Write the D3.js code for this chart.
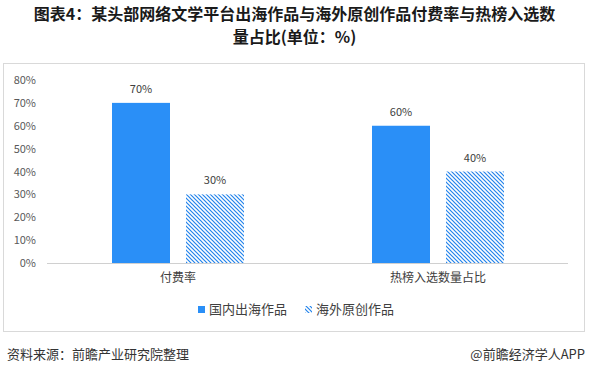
<!DOCTYPE html>
<html>
<head>
<meta charset="utf-8">
<script src="https://cdn.jsdelivr.net/npm/d3@7"></script>
<style>
  body { margin: 0; background: #fff; }
  svg { font-family: "Noto Sans CJK SC", "Noto Sans", sans-serif; }
</style>
</head>
<body>
<svg id="chart" width="589" height="376"></svg>
<script>
// data
const categories = ["付费率", "热榜入选数量占比"];
const seriesNames = ["国内出海作品", "海外原创作品"];
const domestic = [70, 60];
const overseas = [30, 40];
const yTicks = [0, 10, 20, 30, 40, 50, 60, 70, 80];

const blue = "#2a8ff7";
let svg = d3.select("#chart"),
    width = +svg.attr("width");

// hatch pattern
let defs = svg.append("defs");
let pat = defs.append("pattern")
    .attr("id", "hatch")
    .attr("patternUnits", "userSpaceOnUse")
    .attr("width", 4).attr("height", 4);
pat.append("rect").attr("width", 4).attr("height", 4).attr("fill", "#fff");
pat.append("path")
    .attr("d", "M-1,-1 L5,5 M-1,3 L1,5 M3,-1 L5,1")
    .attr("stroke", "#2283ec").attr("stroke-width", 1.2);

// title
svg.append("text")
    .attr("x", width / 2).attr("y", 20)
    .attr("text-anchor", "middle")
    .attr("font-size", 16).attr("font-weight", "bold").attr("fill", "#1a1a1a")
    .text("图表4：某头部网络文学平台出海作品与海外原创作品付费率与热榜入选数");
svg.append("text")
    .attr("x", width / 2).attr("y", 43)
    .attr("text-anchor", "middle")
    .attr("font-size", 16).attr("font-weight", "bold").attr("fill", "#1a1a1a")
    .text("量占比(单位：%)");

// frame
svg.append("rect")
    .attr("x", 3.5).attr("y", 63.5).attr("width", 581).attr("height", 268)
    .attr("fill", "none").attr("stroke", "#d9d9d9");

let x = d3.scaleBand().domain(categories).range([48, 568]);
let y = d3.scaleLinear().domain([0, 80]).range([263, 80]);

// y labels
svg.append("g").selectAll("text")
    .data(yTicks)
    .join("text")
    .attr("x", 36).attr("y", d => y(d) + 4)
    .attr("text-anchor", "end")
    .attr("font-size", 11).attr("fill", "#595959")
    .text(d => d + "%");

// bars
const bw = 58, gap = 16;
let rows = categories.map((c, i) => ({ c, a: domestic[i], b: overseas[i] }));

let g = svg.append("g");
g.selectAll(".ba")
    .data(rows).join("rect")
    .attr("x", d => x(d.c) + x.bandwidth() / 2 - gap / 2 - bw)
    .attr("y", d => y(d.a))
    .attr("width", bw)
    .attr("height", d => y(0) - y(d.a))
    .attr("fill", blue);
g.selectAll(".bb")
    .data(rows).join("rect")
    .attr("x", d => x(d.c) + x.bandwidth() / 2 + gap / 2)
    .attr("y", d => y(d.b))
    .attr("width", bw)
    .attr("height", d => y(0) - y(d.b))
    .attr("fill", "url(#hatch)");

// value labels
g.selectAll(".la")
    .data(rows).join("text")
    .attr("x", d => x(d.c) + x.bandwidth() / 2 - gap / 2 - bw / 2)
    .attr("y", d => y(d.a) - 10)
    .attr("text-anchor", "middle").attr("font-size", 11).attr("fill", "#404040")
    .text(d => d.a + "%");
g.selectAll(".lb")
    .data(rows).join("text")
    .attr("x", d => x(d.c) + x.bandwidth() / 2 + gap / 2 + bw / 2)
    .attr("y", d => y(d.b) - 10)
    .attr("text-anchor", "middle").attr("font-size", 11).attr("fill", "#404040")
    .text(d => d.b + "%");

// baseline
svg.append("line")
    .attr("x1", 47).attr("x2", 568)
    .attr("y1", y(0) + 0.5).attr("y2", y(0) + 0.5)
    .attr("stroke", "#d0d0d0");

// category labels
svg.append("g").selectAll("text")
    .data(categories).join("text")
    .attr("x", d => x(d) + x.bandwidth() / 2)
    .attr("y", 282)
    .attr("text-anchor", "middle").attr("font-size", 12).attr("fill", "#404040")
    .text(d => d);

// legend
let leg = svg.append("g");
leg.append("rect").attr("x", 198).attr("y", 306).attr("width", 7).attr("height", 7).attr("fill", blue);
leg.append("text").attr("x", 209).attr("y", 314).attr("font-size", 13).attr("fill", "#404040").text(seriesNames[0]);
leg.append("rect").attr("x", 305).attr("y", 306).attr("width", 7).attr("height", 7).attr("fill", "url(#hatch)");
leg.append("text").attr("x", 316).attr("y", 314).attr("font-size", 13).attr("fill", "#404040").text(seriesNames[1]);

// footer
svg.append("text")
    .attr("x", 7).attr("y", 359)
    .attr("font-size", 13).attr("fill", "#333")
    .text("资料来源：前瞻产业研究院整理");
svg.append("text")
    .attr("x", 585).attr("y", 359)
    .attr("text-anchor", "end")
    .attr("font-size", 13).attr("fill", "#333")
    .text("@前瞻经济学人APP");
</script>
</body>
</html>
